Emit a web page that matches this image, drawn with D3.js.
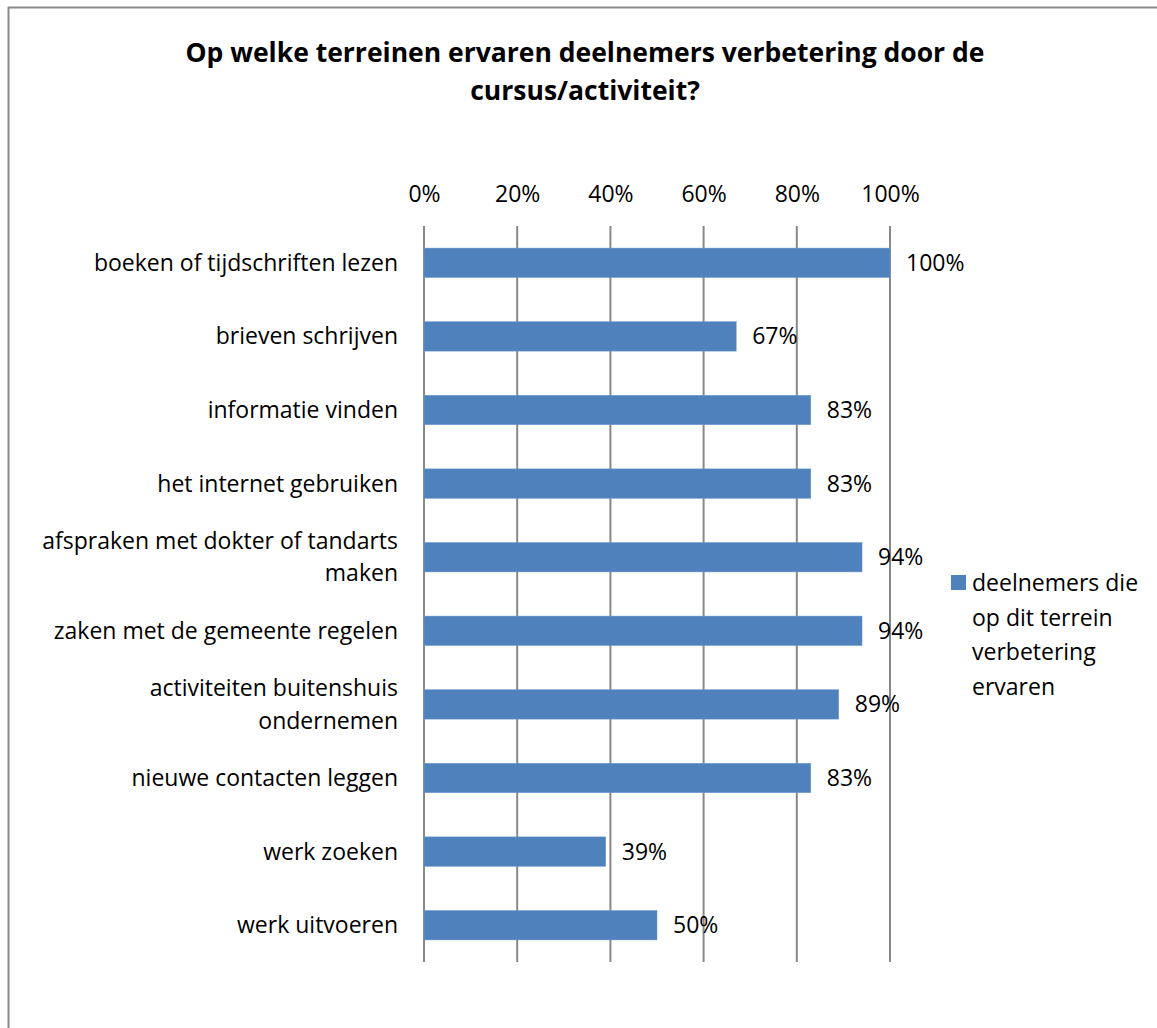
<!DOCTYPE html>
<html><head><meta charset="utf-8">
<script src="https://cdn.jsdelivr.net/npm/d3@7"></script>
<style>body{margin:0;background:#fff}svg{display:block}text{font-family:"Open Sans",sans-serif;fill:#000}</style>
</head><body>
<script>
const categories = [
  ["boeken of tijdschriften lezen"],
  ["brieven schrijven"],
  ["informatie vinden"],
  ["het internet gebruiken"],
  ["afspraken met dokter of tandarts","maken"],
  ["zaken met de gemeente regelen"],
  ["activiteiten buitenshuis","ondernemen"],
  ["nieuwe contacten leggen"],
  ["werk zoeken"],
  ["werk uitvoeren"]
];
const values = [100, 67, 83, 83, 94, 94, 89, 83, 39, 50];
const tickValues = [0, 20, 40, 60, 80, 100];
const titleLines = ["Op welke terreinen ervaren deelnemers verbetering door de", "cursus/activiteit?"];
const legendLines = ["deelnemers die", "op dit terrein", "verbetering", "ervaren"];

const W = 1157, H = 1028;
const FS = 23;
const svg = d3.select("body").append("svg").attr("width", W).attr("height", H);

// outer border
svg.append("path").attr("d", `M8.5,${H} V7.5 H${W}`).attr("fill","none").attr("stroke","#888").attr("stroke-width",2);

const x = d3.scaleLinear().domain([0,100]).range([424, 890]);
const y = d3.scaleBand().domain(d3.range(categories.length)).range([226, 962]).paddingInner(0.6).paddingOuter(0.3);

// title
svg.append("g").selectAll("text").data(titleLines).join("text")
  .attr("x", 585).attr("y", (d,i)=> 62 + i*38)
  .attr("text-anchor","middle").attr("font-weight","bold").attr("font-size", 26.5).text(d=>d);

// gridlines
svg.append("g").selectAll("line").data(tickValues).join("line")
  .attr("x1", d=>x(d)).attr("x2", d=>x(d)).attr("y1", 226).attr("y2", 962)
  .attr("stroke","#888").attr("stroke-width",2);

// axis labels (top)
const axis = d3.axisTop(x).tickValues(tickValues).tickFormat(d=>d+"%").tickSize(0).tickPadding(0);
const ag = svg.append("g").attr("transform","translate(0,202)").call(axis);
ag.select(".domain").remove();
ag.selectAll("text").attr("font-size",FS).attr("font-family","'Open Sans', sans-serif").attr("fill","#000");

// bars
svg.append("g").selectAll("rect").data(values).join("rect")
  .attr("x", x(0)).attr("y", (d,i)=> y(i))
  .attr("width", d=> x(d)-x(0)).attr("height", y.bandwidth())
  .attr("fill","#4F81BD").attr("stroke","#6f9bd0").attr("stroke-width",0.5);

// value labels
svg.append("g").selectAll("text").data(values).join("text")
  .attr("x", d=> x(d)+16).attr("y", (d,i)=> y(i)+y.bandwidth()/2)
  .attr("dy","0.35em").attr("font-size",FS).text(d=>d+"%");

// category labels
const cg = svg.append("g").selectAll("text").data(categories).join("text")
  .attr("text-anchor","end").attr("font-size",FS)
  .attr("y", (d,i)=> y(i)+y.bandwidth()/2);
cg.selectAll("tspan").data(d=>d).join("tspan")
  .attr("x", 398)
  .attr("dy", (t,j,nodes)=> {
    const n = nodes.length;
    return j===0 ? (0.35 - (n-1)*0.7) + "em" : "1.4em";
  })
  .text(t=>t);

// legend
svg.append("rect").attr("x",951).attr("y",575).attr("width",15).attr("height",15).attr("fill","#4F81BD");
svg.append("g").selectAll("text").data(legendLines).join("text")
  .attr("x", 972).attr("y",(d,i)=> 591 + i*34.5).attr("font-size",FS).text(d=>d);
</script>
</body></html>
